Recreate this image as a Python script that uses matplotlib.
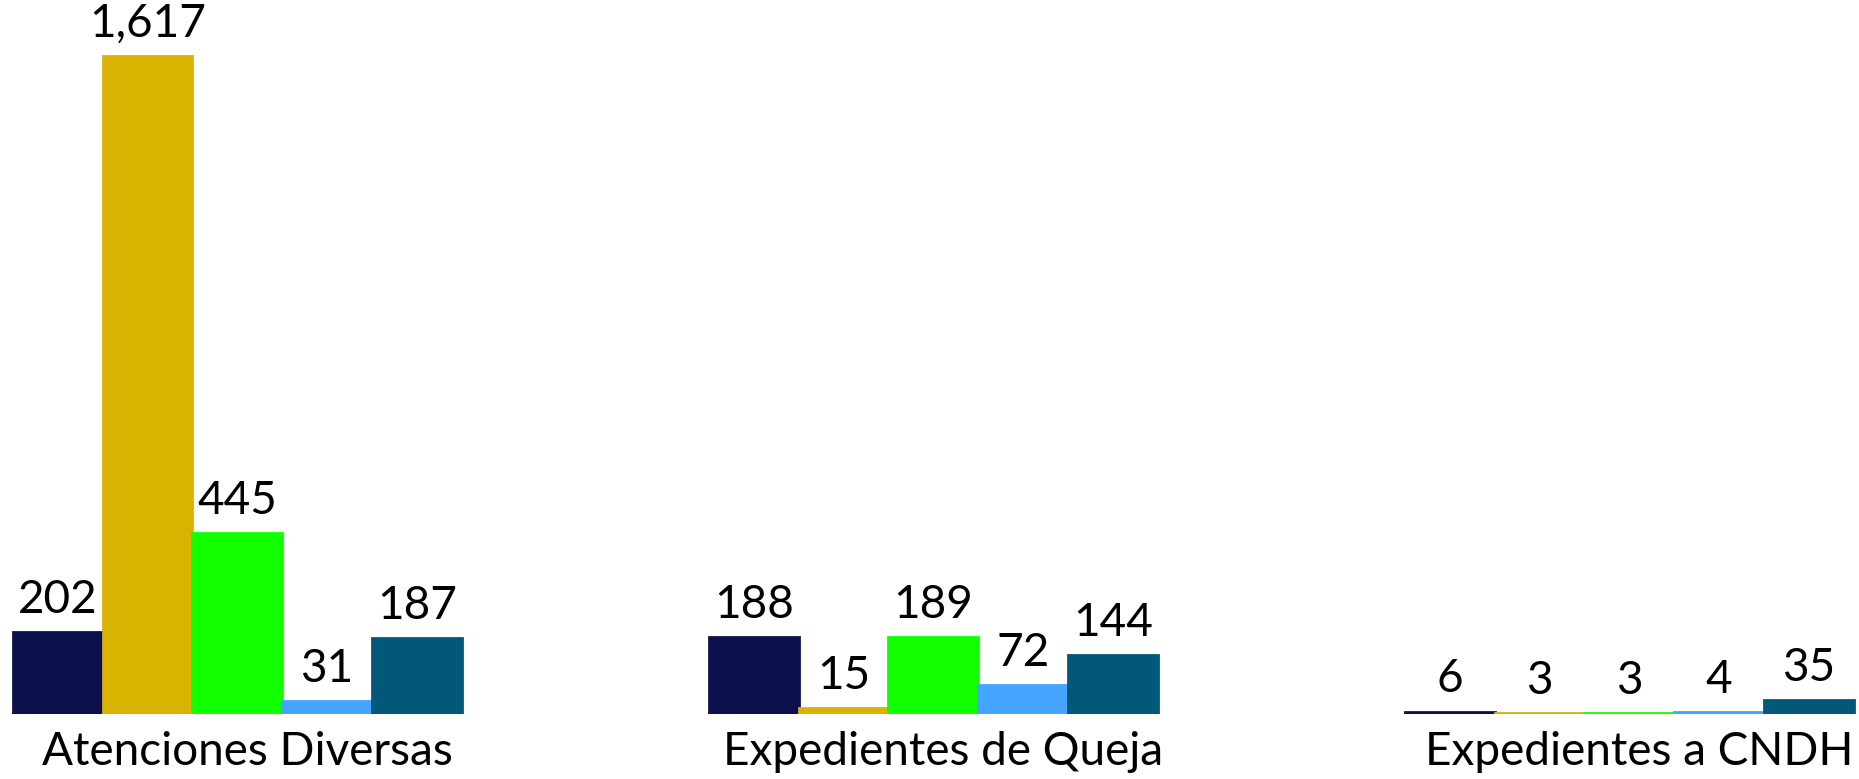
import numpy as np
import matplotlib
matplotlib.use("Agg")
import matplotlib.pyplot as plt

# categories and series (series names are not shown in the chart)
categorias = ["Atenciones Diversas", "Expedientes de Queja", "Expedientes a CNDH"]
series = ["Serie 1", "Serie 2", "Serie 3", "Serie 4", "Serie 5"]
valores = [
    [202, 188, 6],
    [1617, 15, 3],
    [445, 189, 3],
    [31, 72, 4],
    [187, 144, 35],
]
colores = ["#0B114C", "#DAB300", "#12FF00", "#45A4FF", "#025878"]

plt.rcParams['font.family'] = ['Lato', 'DejaVu Sans']

fig = plt.figure(figsize=(18.59, 7.79), dpi=100)
ax = fig.add_axes([0, 0.0834, 1, 0.9166])

x = np.arange(len(categorias))
ancho_grupo = 0.645
ancho = ancho_grupo / len(series)

for i, (nombre, vals) in enumerate(zip(series, valores)):
    pos = x - ancho_grupo / 2 + ancho * (i + 0.5)
    barras = ax.bar(pos, vals, width=ancho, color=colores[i], label=nombre,
                    edgecolor=colores[i], linewidth=2)
    for b, v in zip(barras, vals):
        ax.annotate(f"{v:,}", (b.get_x() + b.get_width() / 2, b.get_height()),
                    xytext=(0, 8), textcoords="offset points",
                    ha="center", va="bottom", fontsize=33, color="black")

ax.set_xlim(-0.341, 2.33)
ax.set_ylim(0, 1754)
ax.set_xticks(x + 0.014)
ax.set_xticklabels(categorias, fontsize=33)
ax.tick_params(axis="x", length=0, pad=12)
ax.set_yticks([])
for sp in ax.spines.values():
    sp.set_visible(False)

fig.savefig("out.png", dpi=100, facecolor="white")
